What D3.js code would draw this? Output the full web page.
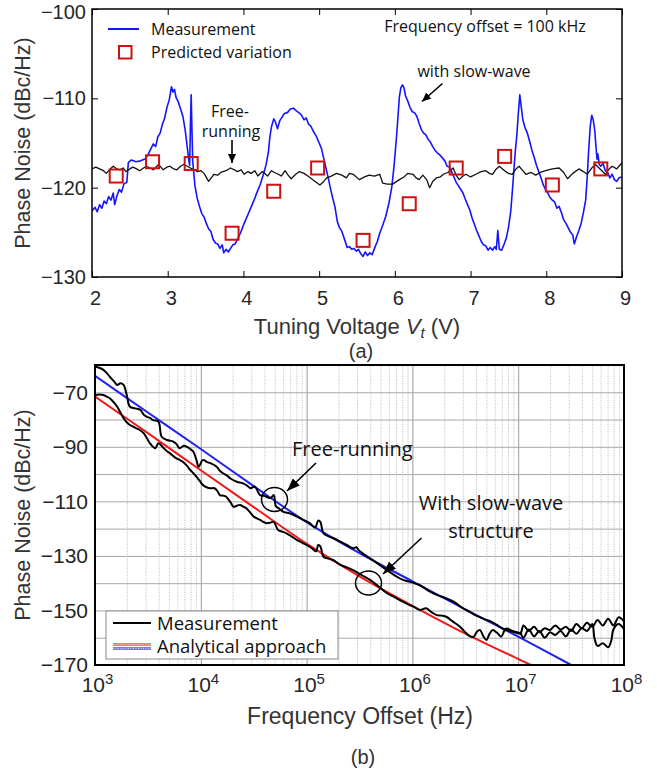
<!DOCTYPE html>
<html><head><meta charset="utf-8">
<script src="https://cdn.jsdelivr.net/npm/d3@7"></script>
<style>body{margin:0;background:#fff} svg{display:block}</style>
</head><body>
<svg id="c" width="657" height="769"></svg>
<script>
// ---------- (a) data ----------
const tuningTicks = [2,3,4,5,6,7,8,9];
const topYTicks = [-100,-110,-120,-130];
// Measurement with slow-wave: [Vt (V), phase noise (dBc/Hz)]
const measTuning = [[2.00,-122.6],[2.04,-122.2],[2.07,-122.7],[2.10,-121.9],[2.13,-122.3],[2.16,-121.5],[2.19,-121.8],[2.22,-121.0],[2.25,-121.4],[2.28,-120.6],[2.30,-121.9],[2.33,-120.9],[2.36,-120.2],[2.39,-120.5],[2.42,-119.6],[2.46,-119.4],[2.48,-117.2],[2.52,-116.9],[2.58,-117.1],[2.64,-117.0],[2.70,-116.8],[2.74,-116.3],[2.78,-115.6],[2.81,-115.1],[2.84,-115.4],[2.87,-114.3],[2.90,-113.9],[2.93,-112.9],[2.96,-112.2],[2.99,-111.0],[3.02,-110.2],[3.05,-108.7],[3.07,-109.3],[3.09,-109.0],[3.11,-109.9],[3.14,-110.4],[3.17,-111.2],[3.20,-112.0],[3.23,-113.5],[3.26,-115.6],[3.28,-117.0],[3.29,-117.5],[3.30,-113.0],[3.31,-109.6],[3.32,-113.5],[3.33,-117.0],[3.36,-119.8],[3.39,-121.2],[3.42,-122.1],[3.45,-122.9],[3.48,-123.3],[3.51,-124.0],[3.54,-124.6],[3.57,-124.9],[3.60,-125.8],[3.63,-126.2],[3.66,-126.3],[3.69,-126.8],[3.72,-126.4],[3.74,-127.3],[3.77,-126.9],[3.80,-127.2],[3.83,-126.8],[3.86,-126.4],[3.89,-126.3],[3.92,-125.8],[3.96,-125.1],[4.00,-124.2],[4.03,-123.6],[4.06,-123.0],[4.10,-122.2],[4.14,-121.4],[4.18,-120.5],[4.22,-119.7],[4.26,-118.6],[4.30,-117.4],[4.33,-116.0],[4.35,-114.3],[4.37,-113.2],[4.40,-112.3],[4.42,-112.6],[4.45,-113.4],[4.48,-112.5],[4.51,-112.1],[4.54,-111.7],[4.58,-111.6],[4.62,-111.2],[4.66,-111.1],[4.70,-111.4],[4.73,-111.6],[4.76,-111.8],[4.80,-112.4],[4.83,-112.2],[4.86,-112.9],[4.89,-113.1],[4.93,-113.8],[4.96,-114.2],[5.00,-115.0],[5.03,-115.6],[5.06,-116.7],[5.09,-117.8],[5.12,-118.9],[5.15,-120.1],[5.18,-121.2],[5.21,-122.2],[5.24,-123.8],[5.27,-124.5],[5.30,-124.9],[5.34,-125.9],[5.37,-126.7],[5.40,-126.6],[5.43,-126.9],[5.46,-126.8],[5.49,-127.1],[5.52,-126.9],[5.55,-127.4],[5.58,-127.7],[5.61,-127.2],[5.64,-127.6],[5.67,-127.3],[5.70,-127.5],[5.74,-126.6],[5.77,-126.0],[5.80,-125.1],[5.84,-124.2],[5.88,-123.2],[5.92,-121.8],[5.96,-119.9],[5.99,-117.5],[6.02,-114.5],[6.04,-112.2],[6.06,-109.8],[6.08,-108.8],[6.10,-108.5],[6.12,-108.8],[6.14,-109.7],[6.17,-110.3],[6.20,-111.0],[6.23,-111.5],[6.26,-111.6],[6.29,-112.0],[6.32,-112.8],[6.35,-113.5],[6.38,-113.9],[6.41,-114.1],[6.44,-114.6],[6.47,-114.9],[6.50,-115.4],[6.53,-115.8],[6.56,-116.1],[6.59,-116.3],[6.62,-116.6],[6.66,-117.0],[6.69,-117.6],[6.72,-117.7],[6.75,-118.2],[6.78,-118.8],[6.81,-119.4],[6.84,-119.8],[6.87,-120.2],[6.90,-120.6],[6.93,-121.3],[6.96,-121.9],[6.99,-122.5],[7.02,-123.4],[7.05,-124.1],[7.08,-124.8],[7.11,-125.4],[7.14,-126.0],[7.17,-126.4],[7.20,-126.5],[7.23,-127.0],[7.26,-126.7],[7.29,-127.0],[7.32,-126.6],[7.34,-126.9],[7.36,-124.8],[7.38,-126.9],[7.41,-127.0],[7.44,-126.4],[7.47,-125.7],[7.50,-124.5],[7.53,-122.7],[7.55,-120.6],[7.57,-118.3],[7.59,-116.0],[7.61,-114.2],[7.63,-111.8],[7.65,-109.6],[7.67,-111.0],[7.69,-112.4],[7.72,-113.3],[7.75,-113.9],[7.78,-114.8],[7.81,-115.8],[7.84,-116.6],[7.87,-117.5],[7.90,-118.2],[7.93,-118.9],[7.96,-119.7],[7.99,-120.2],[8.02,-120.6],[8.05,-121.1],[8.08,-121.4],[8.11,-121.6],[8.14,-122.3],[8.17,-122.1],[8.20,-122.8],[8.23,-123.6],[8.26,-124.0],[8.29,-124.5],[8.32,-125.0],[8.35,-125.3],[8.37,-126.3],[8.40,-125.5],[8.43,-124.8],[8.46,-124.0],[8.49,-122.8],[8.52,-121.4],[8.54,-118.9],[8.56,-115.8],[8.58,-113.2],[8.60,-111.9],[8.62,-112.4],[8.64,-113.6],[8.66,-115.8],[8.67,-116.8],[8.68,-116.2],[8.70,-117.4],[8.72,-117.6],[8.75,-117.3],[8.78,-118.1],[8.81,-118.3],[8.84,-118.9],[8.87,-118.5],[8.90,-119.1],[8.93,-119.3],[8.96,-118.9],[9.00,-118.8]];
// Free-running: [Vt, dBc/Hz]
const freeTuning = [[2.00,-117.9],[2.05,-117.7],[2.10,-117.9],[2.15,-118.1],[2.19,-118.4],[2.24,-117.9],[2.28,-117.6],[2.33,-117.9],[2.37,-118.0],[2.41,-117.8],[2.45,-118.2],[2.50,-117.9],[2.54,-117.7],[2.59,-117.9],[2.63,-118.1],[2.68,-117.8],[2.72,-117.6],[2.77,-117.8],[2.81,-118.0],[2.88,-117.4],[2.94,-118.0],[2.99,-117.7],[3.03,-117.6],[3.08,-117.9],[3.12,-118.0],[3.17,-117.6],[3.21,-117.4],[3.26,-117.6],[3.30,-117.8],[3.35,-118.0],[3.39,-118.2],[3.44,-118.1],[3.48,-118.4],[3.54,-119.3],[3.61,-118.5],[3.66,-118.6],[3.70,-118.3],[3.77,-118.1],[3.83,-117.8],[3.88,-118.0],[3.92,-118.2],[3.97,-118.0],[4.01,-118.5],[4.06,-118.2],[4.10,-118.4],[4.15,-118.1],[4.19,-118.7],[4.25,-118.2],[4.32,-118.7],[4.37,-118.1],[4.41,-118.3],[4.46,-118.5],[4.50,-118.7],[4.55,-118.1],[4.59,-118.6],[4.63,-119.0],[4.69,-118.5],[4.74,-118.2],[4.80,-118.4],[4.85,-118.7],[4.93,-119.2],[5.01,-119.7],[5.05,-119.4],[5.10,-118.9],[5.16,-118.7],[5.23,-118.4],[5.30,-118.6],[5.36,-118.9],[5.40,-118.4],[5.45,-118.5],[5.53,-119.1],[5.60,-118.8],[5.66,-118.6],[5.73,-118.7],[5.80,-118.5],[5.84,-119.5],[5.90,-119.6],[5.97,-119.6],[6.06,-119.1],[6.12,-118.8],[6.17,-118.4],[6.24,-118.5],[6.28,-118.9],[6.32,-119.1],[6.37,-118.6],[6.42,-119.1],[6.46,-120.0],[6.50,-119.3],[6.55,-118.9],[6.60,-118.8],[6.64,-118.5],[6.70,-118.3],[6.77,-117.8],[6.81,-118.6],[6.85,-119.1],[6.90,-118.7],[6.94,-118.5],[7.00,-118.8],[7.07,-118.5],[7.14,-118.2],[7.20,-118.1],[7.25,-118.4],[7.29,-118.5],[7.33,-118.0],[7.38,-117.6],[7.45,-118.1],[7.50,-118.4],[7.55,-118.5],[7.60,-117.9],[7.64,-117.6],[7.69,-118.1],[7.73,-118.5],[7.80,-118.3],[7.86,-118.6],[7.92,-118.3],[7.99,-118.1],[8.08,-117.9],[8.17,-117.8],[8.23,-118.3],[8.28,-119.0],[8.35,-118.4],[8.43,-117.9],[8.49,-118.2],[8.54,-118.5],[8.60,-117.8],[8.65,-117.4],[8.72,-118.0],[8.78,-118.5],[8.83,-117.9],[8.87,-117.6],[8.93,-117.9],[9.00,-117.2]];
// Predicted variation: [Vt, dBc/Hz]
const predicted = [[2.32,-118.7],[2.80,-117.1],[3.31,-117.3],[3.85,-125.1],[4.40,-120.4],[4.98,-117.8],[5.58,-125.9],[6.19,-121.8],[6.81,-117.8],[7.45,-116.5],[8.08,-119.7],[8.72,-117.9]];

// ---------- (b) data ----------
const freqTicks = [1e3,1e4,1e5,1e6,1e7,1e8];
const botYTicks = [-70,-90,-110,-130,-150,-170];
// analytical approach: [log10(f / Hz), dBc/Hz]
const analyticFree = [[3.0,-64.0],[3.5,-77.4],[4.0,-90.8],[4.5,-104.4],[5.0,-117.6],[5.5,-129.0],[6.0,-139.3],[6.5,-149.6],[7.0,-159.6],[7.5,-170.0]];
const analyticSlow = [[3.0,-71.6],[3.5,-85.0],[4.0,-98.6],[4.5,-112.1],[5.0,-125.5],[5.5,-137.5],[6.0,-148.3],[6.5,-158.5],[7.0,-167.8],[7.12,-170.0]];
// measurements: [log10(f / Hz), dBc/Hz]
const measFree = [[3.00,-60.6],[3.04,-61.0],[3.08,-61.8],[3.11,-62.9],[3.14,-64.3],[3.18,-66.0],[3.21,-67.3],[3.24,-66.7],[3.27,-67.3],[3.30,-71.0],[3.33,-75.3],[3.38,-75.9],[3.43,-76.5],[3.46,-78.2],[3.49,-79.0],[3.52,-79.4],[3.55,-80.2],[3.60,-80.8],[3.63,-86.3],[3.68,-87.5],[3.74,-88.1],[3.77,-89.0],[3.80,-90.5],[3.84,-89.6],[3.87,-90.0],[3.90,-90.8],[3.93,-91.8],[3.96,-95.0],[3.98,-97.3],[4.02,-94.8],[4.06,-95.6],[4.09,-96.0],[4.15,-97.3],[4.18,-98.8],[4.21,-99.7],[4.25,-100.6],[4.28,-101.6],[4.34,-102.8],[4.40,-103.4],[4.44,-104.3],[4.47,-105.2],[4.51,-104.6],[4.56,-107.7],[4.60,-108.0],[4.62,-108.3],[4.66,-108.8],[4.69,-107.7],[4.71,-111.8],[4.74,-112.6],[4.78,-113.8],[4.84,-114.4],[4.91,-115.6],[4.97,-116.8],[5.03,-118.0],[5.08,-119.6],[5.11,-117.0],[5.13,-117.5],[5.16,-121.7],[5.22,-123.0],[5.27,-123.8],[5.32,-124.8],[5.38,-126.0],[5.44,-127.2],[5.47,-126.8],[5.49,-127.8],[5.55,-129.6],[5.60,-130.9],[5.68,-133.0],[5.76,-135.2],[5.84,-137.3],[5.91,-138.8],[5.99,-139.6],[6.07,-140.7],[6.15,-142.7],[6.23,-144.3],[6.31,-145.4],[6.39,-146.8],[6.47,-149.0],[6.54,-150.5],[6.62,-152.2],[6.70,-153.5],[6.75,-154.2],[6.80,-155.3],[6.85,-156.6],[6.89,-157.2],[6.95,-157.8],[7.02,-158.4],[7.05,-155.5],[7.10,-157.5],[7.15,-156.0],[7.20,-158.0],[7.25,-156.5],[7.30,-157.2],[7.35,-155.5],[7.40,-157.0],[7.45,-156.0],[7.50,-157.5],[7.55,-155.0],[7.60,-156.5],[7.65,-154.5],[7.70,-156.0],[7.75,-153.5],[7.80,-155.5],[7.85,-153.0],[7.90,-155.5],[7.95,-152.5],[8.00,-154.0]];
const measSlow = [[3.00,-71.0],[3.04,-70.8],[3.08,-71.0],[3.11,-71.6],[3.14,-72.2],[3.18,-73.8],[3.21,-75.3],[3.24,-77.4],[3.27,-79.5],[3.30,-81.0],[3.33,-82.0],[3.36,-82.6],[3.39,-83.2],[3.43,-84.0],[3.46,-85.0],[3.49,-86.8],[3.52,-88.7],[3.57,-90.5],[3.60,-88.7],[3.65,-90.5],[3.68,-91.6],[3.71,-92.4],[3.74,-93.4],[3.77,-94.2],[3.80,-94.8],[3.83,-95.5],[3.87,-97.0],[3.90,-98.5],[3.93,-99.7],[3.96,-101.0],[3.99,-102.5],[4.02,-104.0],[4.06,-104.9],[4.09,-105.2],[4.13,-105.2],[4.16,-106.4],[4.18,-107.7],[4.21,-107.9],[4.24,-108.3],[4.28,-110.3],[4.31,-112.0],[4.34,-111.6],[4.37,-111.3],[4.40,-111.9],[4.43,-112.5],[4.47,-114.2],[4.50,-115.6],[4.53,-116.2],[4.56,-116.8],[4.59,-117.5],[4.62,-118.0],[4.66,-117.8],[4.69,-117.5],[4.73,-120.5],[4.77,-121.1],[4.81,-121.7],[4.86,-122.9],[4.91,-124.2],[4.96,-125.2],[5.00,-126.0],[5.05,-127.2],[5.09,-128.3],[5.11,-126.0],[5.13,-126.5],[5.16,-130.3],[5.20,-130.9],[5.25,-131.5],[5.32,-133.3],[5.38,-134.2],[5.44,-135.2],[5.52,-137.0],[5.60,-138.8],[5.68,-141.2],[5.76,-143.7],[5.84,-145.3],[5.91,-146.8],[5.96,-147.8],[6.01,-148.6],[6.07,-149.8],[6.13,-149.2],[6.18,-150.6],[6.23,-151.7],[6.28,-151.9],[6.32,-152.3],[6.38,-154.0],[6.45,-156.0],[6.51,-158.4],[6.55,-159.6],[6.58,-159.6],[6.61,-157.8],[6.64,-157.2],[6.67,-159.4],[6.70,-160.8],[6.73,-158.5],[6.76,-157.2],[6.80,-158.2],[6.84,-159.6],[6.87,-157.4],[6.89,-156.6],[6.95,-157.6],[7.02,-158.4],[7.05,-160.0],[7.10,-157.0],[7.15,-159.5],[7.20,-157.5],[7.25,-160.0],[7.30,-158.0],[7.35,-159.0],[7.40,-157.5],[7.45,-159.5],[7.50,-157.0],[7.55,-158.5],[7.60,-156.5],[7.65,-157.5],[7.70,-155.0],[7.72,-160.0],[7.75,-163.0],[7.80,-162.0],[7.85,-163.5],[7.88,-161.0],[7.90,-157.0],[7.95,-155.0],[8.00,-157.0]];

// ---------- drawing ----------
const svg = d3.select("#c");
const TF = "'Liberation Sans', Arial, sans-serif";
const AF = "'Open Sans', sans-serif";
const TXT = "#262626";

const defs = svg.append("defs");
function marker(id, w, h){
  defs.append("marker").attr("id",id).attr("markerUnits","userSpaceOnUse")
    .attr("markerWidth",w).attr("markerHeight",h).attr("refX",w).attr("refY",h/2)
    .attr("orient","auto").append("path")
    .attr("d",`M0,0L${w},${h/2}L0,${h}Z`).attr("fill","#000");
}
marker("arS",9,8); marker("arL",13,10);

// ===== (a) =====
const tL=92,tR=622,tT=9,tB=277;
const xT = d3.scaleLinear().domain([2,9]).range([tL,tR]);
const yT = d3.scaleLinear().domain([-130,-100]).range([tB,tT]);
defs.append("clipPath").attr("id","clipT").append("rect").attr("x",tL).attr("y",tT).attr("width",tR-tL).attr("height",tB-tT);

const gT = svg.append("g");
function styleAxis(g, size){
  g.select(".domain").remove();
  g.selectAll(".tick line").attr("stroke","#000").attr("stroke-width",1);
  g.selectAll(".tick text").attr("font-family",TF).attr("font-size",size).attr("fill",TXT);
}
const axB = gT.append("g").attr("transform",`translate(0,${tB})`)
  .call(d3.axisBottom(xT).tickValues(tuningTicks).tickFormat(d3.format("d")).tickSizeInner(-6).tickSizeOuter(0).tickPadding(14));
styleAxis(axB,20); axB.selectAll(".tick text").attr("dx",3);
const axTp = gT.append("g").attr("transform",`translate(0,${tT})`)
  .call(d3.axisTop(xT).tickValues(tuningTicks).tickSizeInner(-6).tickSizeOuter(0).tickFormat(""));
styleAxis(axTp,20);
const axL = gT.append("g").attr("transform",`translate(${tL},0)`)
  .call(d3.axisLeft(yT).tickValues(topYTicks).tickFormat(d3.format("d")).tickSizeInner(-6).tickSizeOuter(0).tickPadding(6));
styleAxis(axL,20);
axL.selectAll(".tick text").filter(d=>d===-100).attr("dy","0.45em");
const axR = gT.append("g").attr("transform",`translate(${tR},0)`)
  .call(d3.axisRight(yT).tickValues(topYTicks).tickSizeInner(-6).tickSizeOuter(0).tickFormat(""));
styleAxis(axR,20);

const plotT = gT.append("g").attr("clip-path","url(#clipT)");
const lineT = d3.line().x(d=>xT(d[0])).y(d=>yT(d[1]));
plotT.append("path").datum(measTuning).attr("d",lineT).attr("fill","none").attr("stroke","#1414ff").attr("stroke-width",1.6).attr("stroke-linejoin","round");
plotT.append("path").datum(freeTuning).attr("d",lineT).attr("fill","none").attr("stroke","#111").attr("stroke-width",1.3).attr("stroke-linejoin","round");
plotT.selectAll("rect.pv").data(predicted).join("rect").attr("class","pv")
  .attr("x",d=>xT(d[0])-6.5).attr("y",d=>yT(d[1])-6.5).attr("width",13).attr("height",13)
  .attr("fill","none").attr("stroke","#cc1111").attr("stroke-width",2);

gT.append("rect").attr("x",tL).attr("y",tT).attr("width",tR-tL).attr("height",tB-tT)
  .attr("fill","none").attr("stroke","#000").attr("stroke-width",1.5);

// legend (a)
gT.append("line").attr("x1",108).attr("x2",139).attr("y1",29).attr("y2",29).attr("stroke","#1414ff").attr("stroke-width",2);
gT.append("text").attr("x",151).attr("y",29).attr("dy","0.36em").attr("font-family",AF).attr("font-size",16).attr("fill","#111").text("Measurement");
gT.append("rect").attr("x",119).attr("y",46).attr("width",12.5).attr("height",12.5).attr("fill","none").attr("stroke","#cc1111").attr("stroke-width",2);
gT.append("text").attr("x",151).attr("y",52.5).attr("dy","0.36em").attr("font-family",AF).attr("font-size",16).attr("fill","#111").text("Predicted variation");

gT.append("text").attr("x",485).attr("y",26).attr("dy","0.36em").attr("text-anchor","middle").attr("font-family",AF).attr("font-size",16).attr("fill","#111").text("Frequency offset = 100 kHz");
gT.append("text").attr("x",474).attr("y",71).attr("dy","0.36em").attr("text-anchor","middle").attr("font-family",AF).attr("font-size",16).attr("fill","#111").text("with slow-wave");
gT.append("line").attr("x1",442.5).attr("y1",83.5).attr("x2",422).attr("y2",101.5).attr("stroke","#000").attr("stroke-width",1.6).attr("marker-end","url(#arS)");
gT.append("text").attr("x",230).attr("y",111).attr("dy","0.36em").attr("text-anchor","middle").attr("font-family",AF).attr("font-size",16).attr("fill","#111").text("Free-");
gT.append("text").attr("x",231).attr("y",131).attr("dy","0.36em").attr("text-anchor","middle").attr("font-family",AF).attr("font-size",16).attr("fill","#111").text("running");
gT.append("line").attr("x1",232).attr("y1",140).attr("x2",232).attr("y2",163).attr("stroke","#000").attr("stroke-width",1.6).attr("marker-end","url(#arS)");

// titles (a)
svg.append("text").attr("transform",`translate(30,${(tT+tB)/2}) rotate(-90)`).attr("text-anchor","middle")
  .attr("font-family",TF).attr("font-size",21.5).attr("fill","#333").text("Phase Noise (dBc/Hz)");
const xtA = svg.append("text").attr("x",357).attr("y",334).attr("text-anchor","middle").attr("font-family",TF).attr("font-size",22).attr("fill","#333");
xtA.append("tspan").text("Tuning Voltage ");
xtA.append("tspan").attr("font-style","italic").text("V");
xtA.append("tspan").attr("font-style","italic").attr("font-size",15).attr("dy",4).text("t");
xtA.append("tspan").attr("dy",-4).text(" (V)");
svg.append("text").attr("x",361).attr("y",358).attr("text-anchor","middle").attr("font-family",TF).attr("font-size",20).attr("fill","#333").text("(a)");

// ===== (b) =====
const bL=95,bR=624,bT=365,bB=665;
const xB = d3.scaleLog().domain([1e3,1e8]).range([bL,bR]);
const yB = d3.scaleLinear().domain([-170,-60]).range([bB,bT]);
defs.append("clipPath").attr("id","clipB").append("rect").attr("x",bL).attr("y",bT).attr("width",bR-bL).attr("height",bB-bT);
const gB = svg.append("g");

const allF = xB.ticks();
const isMajor = v => Math.abs(Math.log10(v)-Math.round(Math.log10(v)))<1e-9;
const minorF = allF.filter(v=>!isMajor(v));
const majorF = allF.filter(v=>isMajor(v));
const gridMinor = gB.append("g").attr("transform",`translate(0,${bB})`)
  .call(d3.axisBottom(xB).tickValues(minorF).tickSize(-(bB-bT)).tickFormat(""));
gridMinor.select(".domain").remove();
gridMinor.selectAll("line").attr("stroke","#b8b8b8").attr("stroke-width",0.8).attr("stroke-dasharray","1.2,1.2");
const gridMajor = gB.append("g").attr("transform",`translate(0,${bB})`)
  .call(d3.axisBottom(xB).tickValues(majorF).tickSize(-(bB-bT)).tickFormat(""));
gridMajor.select(".domain").remove();
gridMajor.selectAll("line").attr("stroke","#9a9a9a").attr("stroke-width",1);
const gridH = gB.append("g").attr("transform",`translate(${bL},0)`)
  .call(d3.axisLeft(yB).tickValues(d3.range(-160,-60,10)).tickSize(-(bR-bL)).tickFormat(""));
gridH.select(".domain").remove();
gridH.selectAll("line").attr("stroke","#a8a8a8").attr("stroke-width",1);

const plotB = gB.append("g").attr("clip-path","url(#clipB)");
const lineBs = d3.line().x(d=>xB(Math.pow(10,d[0]))).y(d=>yB(d[1])).curve(d3.curveCatmullRom.alpha(0.5));
plotB.append("path").datum(analyticFree).attr("d",lineBs).attr("fill","none").attr("stroke","#2020f0").attr("stroke-width",2);
plotB.append("path").datum(analyticSlow).attr("d",lineBs).attr("fill","none").attr("stroke","#f01818").attr("stroke-width",2);
plotB.append("path").datum(measFree).attr("d",lineBs).attr("fill","none").attr("stroke","#000").attr("stroke-width",2).attr("stroke-linejoin","round");
plotB.append("path").datum(measSlow).attr("d",lineBs).attr("fill","none").attr("stroke","#000").attr("stroke-width",2).attr("stroke-linejoin","round");

// axes (b)
const axBL = gB.append("g").attr("transform",`translate(${bL},0)`)
  .call(d3.axisLeft(yB).tickValues(botYTicks).tickSize(0).tickPadding(7));
styleAxis(axBL,21);
const axBB = gB.append("g").attr("transform",`translate(0,${bB})`)
  .call(d3.axisBottom(xB).tickValues(freqTicks).tickSize(0).tickPadding(12));
styleAxis(axBB,21);
axBB.selectAll(".tick text").each(function(d){
  const t = d3.select(this); t.text(null).attr("dx",2);
  t.append("tspan").text("10");
  t.append("tspan").attr("font-size",15).attr("dy",-8).text(Math.round(Math.log10(d)));
});

gB.append("rect").attr("x",bL).attr("y",bT).attr("width",bR-bL).attr("height",bB-bT)
  .attr("fill","none").attr("stroke","#000").attr("stroke-width",2);

// annotations (b)
gB.append("text").attr("x",292).attr("y",449).attr("dy","0.36em").attr("font-family",AF).attr("font-size",20).attr("fill","#111").text("Free-running");
gB.append("line").attr("x1",316).attr("y1",463).attr("x2",287).attr("y2",491).attr("stroke","#000").attr("stroke-width",1.6).attr("marker-end","url(#arL)");
gB.append("ellipse").attr("cx",274.5).attr("cy",499.5).attr("rx",13).attr("ry",12).attr("fill","none").attr("stroke","#000").attr("stroke-width",1.5);
gB.append("text").attr("x",491).attr("y",503).attr("dy","0.36em").attr("text-anchor","middle").attr("font-family",AF).attr("font-size",20).attr("fill","#111").text("With slow-wave");
gB.append("text").attr("x",491).attr("y",531).attr("dy","0.36em").attr("text-anchor","middle").attr("font-family",AF).attr("font-size",20).attr("fill","#111").text("structure");
gB.append("line").attr("x1",421.5).attr("y1",538).attr("x2",383).attr("y2",574).attr("stroke","#000").attr("stroke-width",1.6).attr("marker-end","url(#arL)");
gB.append("ellipse").attr("cx",368.5).attr("cy",583).attr("rx",13).attr("ry",12).attr("fill","none").attr("stroke","#000").attr("stroke-width",1.5);

// legend (b)
gB.append("rect").attr("x",106).attr("y",611).attr("width",232).attr("height",48).attr("fill","#fff").attr("stroke","#8a8a8a").attr("stroke-width",1);
gB.append("line").attr("x1",113).attr("x2",151).attr("y1",623).attr("y2",623).attr("stroke","#000").attr("stroke-width",2);
gB.append("text").attr("x",157).attr("y",623).attr("dy","0.36em").attr("font-family",AF).attr("font-size",18.5).attr("fill","#111").text("Measurement");
[[644.5,"#f07a7a"],[648.5,"#7a7af0"]].forEach(([y,c])=>{
  gB.append("line").attr("x1",113).attr("x2",151).attr("y1",y).attr("y2",y).attr("stroke",c).attr("stroke-width",3);
  gB.append("line").attr("x1",113).attr("x2",151).attr("y1",y).attr("y2",y).attr("stroke","#fff").attr("stroke-width",0.8).attr("stroke-dasharray","1,1.5").attr("opacity",0.8);
});
gB.append("text").attr("x",157).attr("y",646.5).attr("dy","0.36em").attr("font-family",AF).attr("font-size",18.5).attr("fill","#111").text("Analytical approach");

// titles (b)
svg.append("text").attr("transform",`translate(30,${(bT+bB)/2}) rotate(-90)`).attr("text-anchor","middle")
  .attr("font-family",TF).attr("font-size",21.5).attr("fill","#333").text("Phase Noise (dBc/Hz)");
svg.append("text").attr("x",360).attr("y",724).attr("text-anchor","middle").attr("font-family",TF).attr("font-size",23).attr("fill","#333").text("Frequency Offset (Hz)");
svg.append("text").attr("x",363).attr("y",764).attr("text-anchor","middle").attr("font-family",TF).attr("font-size",20).attr("fill","#333").text("(b)");
</script>
</body></html>
